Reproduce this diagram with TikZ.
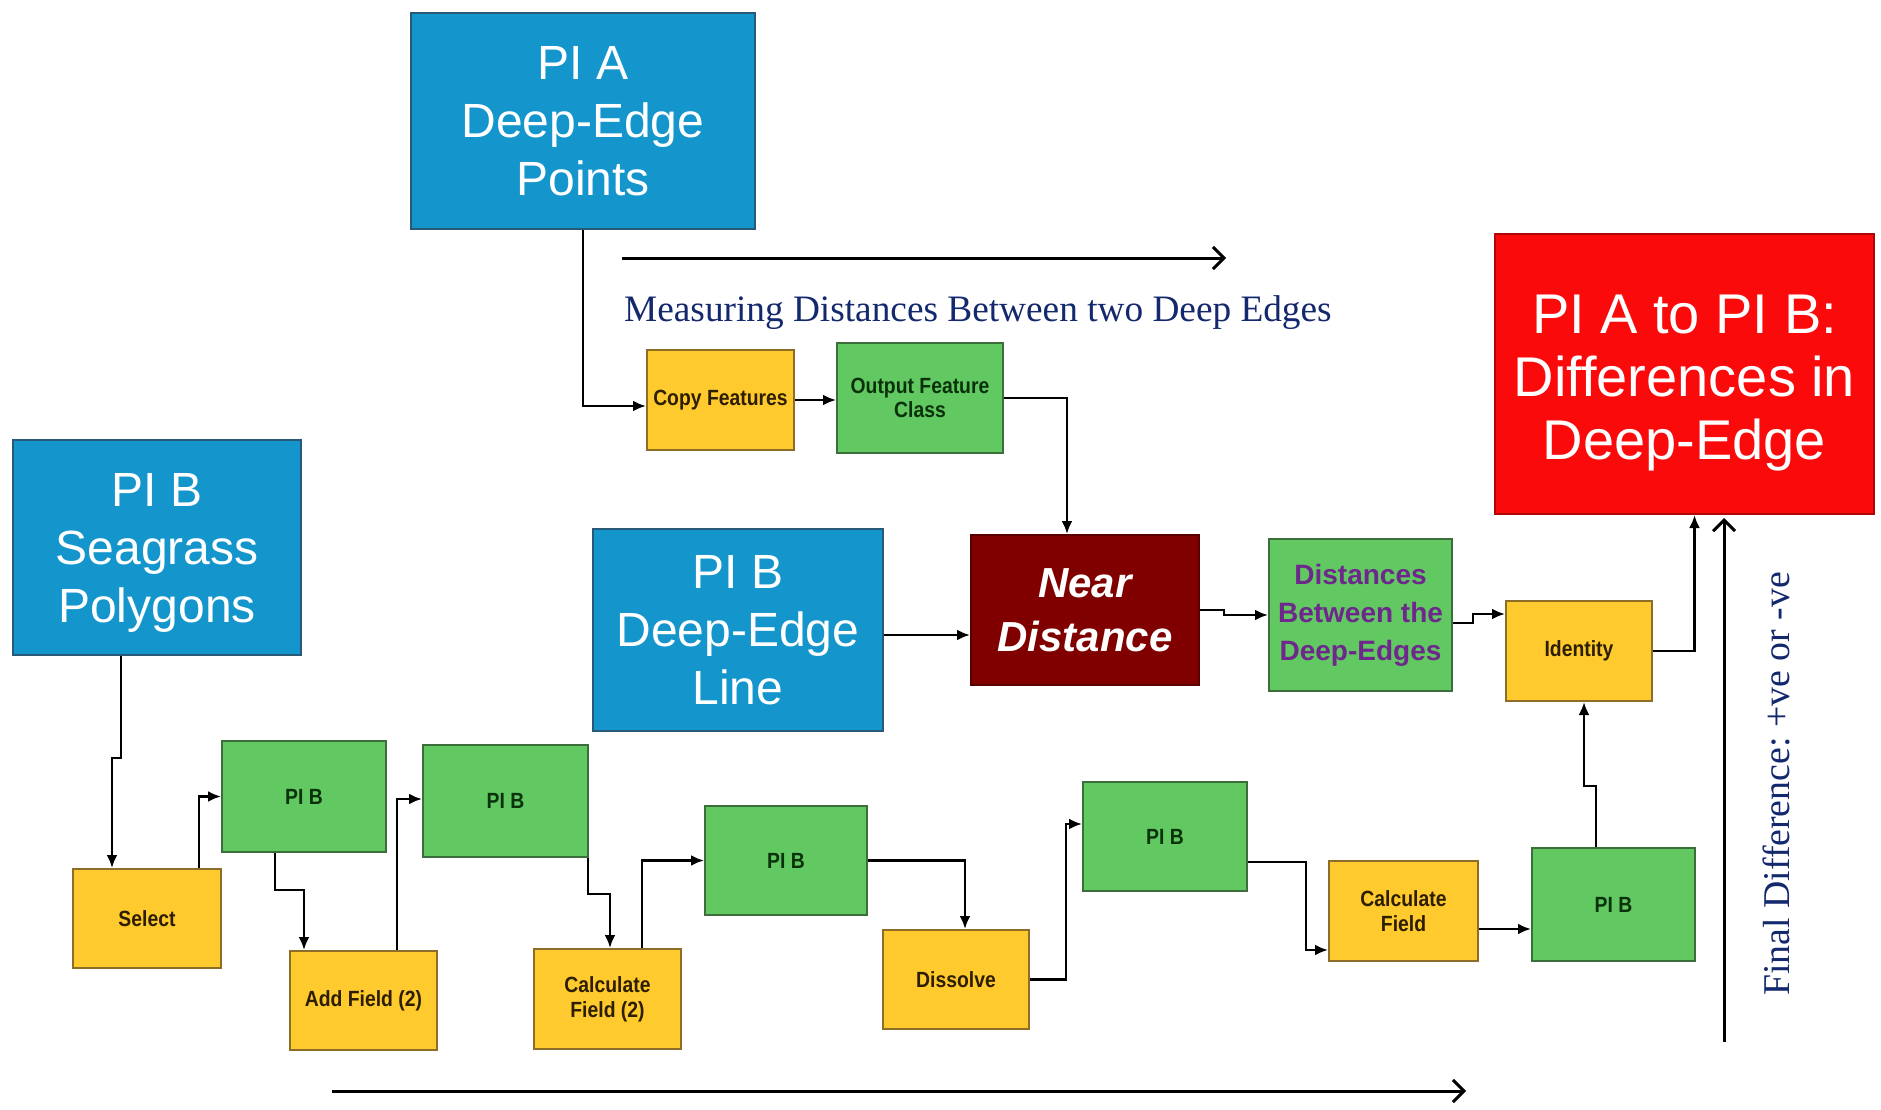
\documentclass[tikz,border=0pt]{standalone}
\usepackage{fontspec}
\setmainfont{Liberation Sans}
\newfontfamily\seriffont{Liberation Serif}
\newfontfamily\narrowfont[FakeStretch=0.88]{Liberation Sans}
\usetikzlibrary{arrows.meta,calc}
\frenchspacing
\definecolor{boxblue}{RGB}{20,150,205}
\definecolor{blueborder}{RGB}{40,90,120}
\definecolor{boxyellow}{RGB}{255,202,45}
\definecolor{yborder}{RGB}{140,110,40}
\definecolor{ytext}{RGB}{45,30,0}
\definecolor{boxgreen}{RGB}{98,200,98}
\definecolor{gborder}{RGB}{60,110,60}
\definecolor{gtext}{RGB}{10,50,10}
\definecolor{boxdarkred}{RGB}{128,0,0}
\definecolor{boxred}{RGB}{250,10,10}
\definecolor{purpletext}{RGB}{110,40,140}
\definecolor{navytext}{RGB}{20,40,110}
\tikzset{
  box/.style={draw, line width=2pt, anchor=north west, inner sep=0pt, align=center},
  bluebox/.style={box, fill=boxblue, draw=blueborder, text=white, font=\fontsize{48}{58}\selectfont},
  ybox/.style={box, fill=boxyellow, draw=yborder, text=ytext, font=\narrowfont\bfseries\fontsize{22}{25}\selectfont},
  gbox/.style={box, fill=boxgreen, draw=gborder, text=gtext, font=\narrowfont\bfseries\fontsize{22}{25}\selectfont},
  boxtext/.style={inner sep=0pt, align=center},
  conn/.style={line width=2.6pt, -{Latex[length=13pt,width=11pt]}},
  bigarrow/.style={line width=3pt, -{Straight Barb[length=11pt,width=22pt]}},
  caption/.style={text=navytext, font=\seriffont\fontsize{37.3}{44}\selectfont, inner sep=0pt}
}
\begin{document}
\begin{tikzpicture}[x=1pt,y=-1pt]
\path[use as bounding box, fill=white] (0,0) rectangle (1881,1110);

% big boxes
\node[bluebox, minimum width=344pt, minimum height=216pt] (pia) at (410,12) {PI A\\Deep-Edge\\Points};
\node[bluebox, minimum width=288pt, minimum height=215pt] (seag) at (12,439) {};
\node[boxtext, text=white, font=\fontsize{48}{58}\selectfont] (seagtxt) at ($(seag.center)+(0,5)$) {PI B\\Seagrass\\Polygons};
\node[bluebox, minimum width=290pt, minimum height=202pt] (deline) at (592,528) {PI B\\Deep-Edge\\Line};
\node[box, fill=boxred, draw=boxred!70!black, minimum width=379pt, minimum height=280pt] (red) at (1494,233) {};
\node[boxtext, text=white, font=\fontsize{56}{63}\selectfont] (redtxt) at ($(red.center)+(0,9)$) {PI A to PI B:\\Differences in\\Deep-Edge};
\node[box, fill=boxdarkred, draw=boxdarkred!70!black, text=white, font=\bfseries\itshape\fontsize{42}{54}\selectfont, minimum width=228pt, minimum height=150pt] (near) at (970,534) {Near\\Distance};
\node[box, fill=boxgreen, draw=gborder, text=purpletext, font=\bfseries\fontsize{28}{38}\selectfont, minimum width=183pt, minimum height=152pt] (dist) at (1268,538) {Distances\\Between the\\Deep-Edges};

% small boxes
\node[ybox, minimum width=147pt, minimum height=100pt] (copy) at (646,349) {Copy Features};
\node[gbox, font=\narrowfont\bfseries\fontsize{22}{24}\selectfont, minimum width=166pt, minimum height=110pt] (ofc) at (836,342) {Output Feature\\Class};
\node[ybox, minimum width=146pt, minimum height=100pt] (ident) at (1505,600) {Identity};
\node[ybox, minimum width=148pt, minimum height=99pt] (select) at (72,868) {Select};
\node[gbox, minimum width=164pt, minimum height=111pt] (pb1) at (221,740) {PI B};
\node[ybox, minimum width=147pt, minimum height=99pt] (addf) at (289,950) {Add Field (2)};
\node[gbox, minimum width=165pt, minimum height=112pt] (pb2) at (422,744) {PI B};
\node[ybox, minimum width=147pt, minimum height=100pt] (calc2) at (533,948) {Calculate\\Field (2)};
\node[gbox, minimum width=162pt, minimum height=109pt] (pb3) at (704,805) {PI B};
\node[ybox, minimum width=146pt, minimum height=99pt] (diss) at (882,929) {Dissolve};
\node[gbox, minimum width=164pt, minimum height=109pt] (pb4) at (1082,781) {PI B};
\node[ybox, minimum width=149pt, minimum height=100pt] (calc) at (1328,860) {Calculate\\Field};
\node[gbox, minimum width=163pt, minimum height=113pt] (pb5) at (1531,847) {PI B};

% connectors (top part)
\draw[conn] (pia.south) |- ($(copy.west)+(0,6)$);
\draw[conn] (copy.east) -- (ofc.west |- copy.east);
\draw[conn] (ofc.east) -| ($(near.north)+(-18,0)$);
\draw[conn] ($(deline.east)+(0,5)$) -- (near.west |- {$(deline.east)+(0,5)$});
\draw[conn] (near.east) -- ++(24,0) |- (dist.west);
\draw[conn] ($(dist.east)+(0,8)$) -- ++(20,0) |- ($(ident.north west)+(0,14)$);
\draw[conn] (ident.east) -| ($(red.south)+(10,0)$);

% connectors (bottom chain)
\draw[conn] ($(seag.south west)+(109,0)$) -- ++(0,102) -| ($(select.north west)+(40,0)$);
\draw[conn] ($(select.north west)+(127,0)$) |- (pb1.west);
\draw[conn] ($(pb1.south west)+(54,0)$) -- ++(0,37) -| ($(addf.north west)+(15,0)$);
\draw[conn] ($(addf.north west)+(108,0)$) |- ($(pb2.west)+(0,-2)$);
\draw[conn] ($(pb2.south east)+(-1,0)$) -- ++(0,36) -| ($(calc2.north west)+(77,0)$);
\draw[conn] ($(calc2.north west)+(109,0)$) |- (pb3.west);
\draw[conn] (pb3.east) -| ($(diss.north west)+(83,0)$);
\draw[conn] (diss.east) -- ++(36,0) |- ($(pb4.north west)+(0,43)$);
\draw[conn] ($(pb4.north east)+(0,81)$) -- ++(58,0) |- ($(calc.north west)+(0,90)$);
\draw[conn] ($(calc.east)+(0,18)$) -- (pb5.west |- {$(calc.east)+(0,18)$});
\draw[conn] ($(pb5.north west)+(65,0)$) -- ++(0,-61) -| ($(ident.south)+(5,0)$);

% big arrows and captions
\coordinate (ta1) at (622,258);
\coordinate (ta2) at (1226,258);
\draw[bigarrow] (ta1) -- (ta2);
\coordinate (ba1) at (332,1091);
\coordinate (ba2) at (1466,1091);
\draw[bigarrow] (ba1) -- (ba2);
\coordinate (ra1) at (1724,1042);
\coordinate (ra2) at (1724,518);
\draw[bigarrow] (ra1) -- (ra2);

\node[caption, anchor=west] (mcap) at (624,313) {Measuring Distances Between two Deep Edges};
\node[caption, rotate=90, font=\seriffont\fontsize{37.8}{44}\selectfont] (fcap) at (1776,784) {Final Difference: +ve or -ve};
\end{tikzpicture}
\end{document}
